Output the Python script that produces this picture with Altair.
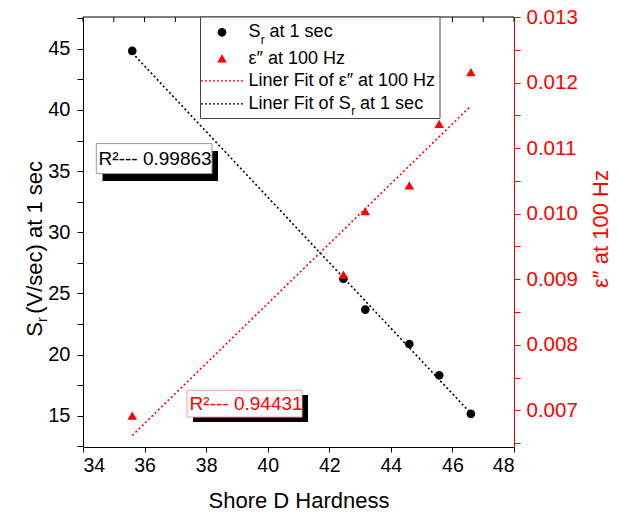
import altair as alt
import pandas as pd

# ---- data ----
hardness = [35.6, 42.46, 43.17, 44.6, 45.57, 46.6]
sr_values = [44.83, 26.2, 23.68, 20.87, 18.31, 15.16]
eps_values = [0.00692, 0.00907, 0.01004, 0.01043, 0.01137, 0.01216]

x_ticks = list(range(34, 49))
y_left_ticks = [12.5, 15, 17.5, 20, 22.5, 25, 27.5, 30, 32.5, 35, 37.5, 40, 42.5, 45, 47.5]
y_right_ticks = [0.0065, 0.007, 0.0075, 0.008, 0.0085, 0.009, 0.0095, 0.010,
                 0.0105, 0.011, 0.0115, 0.012, 0.0125, 0.013]

r2_sr = "R\u00b2--- 0.99863"
r2_eps = "R\u00b2--- 0.94431"

df = pd.DataFrame({"hardness": hardness, "sr": sr_values, "eps": eps_values})

FONT = "Liberation Sans"
W, H = 431, 430
RED = "#ff0000"

xscale = alt.Scale(domain=[34, 48], nice=False, zero=False)
xaxis = alt.Axis(values=x_ticks, format="d",
                 labelExpr="datum.value % 2 == 0 ? datum.label : ''",
                 title="Shore D Hardness", grid=False, tickSize=5,
                 labelFontSize=19.5, titleFontSize=22, labelPadding=4, titlePadding=16,
                 domainColor="black", tickColor="black", labelColor="black",
                 titleColor="black", titleFontWeight="normal", labelFont=FONT, titleFont=FONT)
x_enc = alt.X("hardness:Q", scale=xscale, axis=xaxis)

yl_scale = alt.Scale(domain=[12.45, 47.6], nice=False, zero=False)
yl_axis = alt.Axis(values=y_left_ticks, labelExpr="datum.value % 5 == 0 ? datum.label : ''",
                   title=None, grid=False, tickSize=6, labelFontSize=20, labelPadding=7,
                   domainColor="black", tickColor="black", labelColor="black", labelFont=FONT)

yr_scale = alt.Scale(domain=[0.00644, 0.013], nice=False, zero=False)
yr_axis = alt.Axis(orient="right", values=y_right_ticks, format=".3f",
                   labelExpr="abs(datum.value*1000 - round(datum.value*1000)) < 0.01 ? datum.label : ''",
                   title="\u03b5\u2033 at 100 Hz", titleAngle=270, titleX=86, titleY=211.5,
                   titleAlign="center", titleBaseline="middle", grid=False, tickSize=6,
                   labelFontSize=20.5, titleFontSize=22, labelPadding=6,
                   domainColor=RED, tickColor=RED, labelColor=RED, titleColor=RED,
                   titleFontWeight="normal", labelFont=FONT, titleFont=FONT)

base = alt.Chart(df)

sr_fit = base.transform_regression("hardness", "sr").mark_line(
    color="black", strokeDash=[2, 2.5], strokeWidth=1.6
).encode(x=x_enc, y=alt.Y("sr:Q", scale=yl_scale, axis=yl_axis))
sr_pts = base.mark_point(filled=True, shape="circle", size=75, color="black", opacity=1).encode(
    x=x_enc, y=alt.Y("sr:Q", scale=yl_scale, axis=yl_axis))
left = alt.layer(sr_fit, sr_pts)

eps_fit = base.transform_regression("hardness", "eps").mark_line(
    color=RED, strokeDash=[2, 2.5], strokeWidth=1.6
).encode(x=x_enc, y=alt.Y("eps:Q", scale=yr_scale, axis=yr_axis))
eps_pts = base.mark_point(filled=True, shape="triangle-up", size=90, color=RED, opacity=1).encode(
    x=x_enc, y=alt.Y("eps:Q", scale=yr_scale, axis=yr_axis))
right = alt.layer(eps_fit, eps_pts)

one = alt.Data(values=[{}])


def txt(s, x, y, size, color="black", align="left", baseline="middle", angle=0):
    kw = dict(text=s, align=align, baseline=baseline, fontSize=size, color=color, font=FONT)
    if angle:
        kw["angle"] = angle
    return alt.Chart(one).mark_text(**kw).encode(x=alt.value(x), y=alt.value(y))


def box(x1, x2, y1, y2, fill, stroke=None, sw=1):
    kw = dict(fill=fill, strokeWidth=sw)
    if stroke:
        kw["stroke"] = stroke
    return alt.Chart(one).mark_rect(**kw).encode(
        x=alt.value(x1), x2=alt.value(x2), y=alt.value(y1), y2=alt.value(y2))


def hline(x1, x2, y, color, dash=None, sw=1):
    kw = dict(color=color, strokeWidth=sw)
    if dash:
        kw["strokeDash"] = dash
    return alt.Chart(one).mark_rule(**kw).encode(
        x=alt.value(x1), x2=alt.value(x2), y=alt.value(y))


# top frame line + inward ticks
top_line = hline(0, W, 0, "black", sw=1)
top_ticks = alt.Chart(pd.DataFrame({"t": x_ticks})).mark_rule(color="black", strokeWidth=1).encode(
    x=alt.X("t:Q", scale=xscale), y=alt.value(0), y2=alt.value(5))

# legend
leg = [
    box(117.5, 357, 0, 101.5, "white", "#444", 1),
    alt.Chart(one).mark_point(filled=True, shape="circle", size=75, color="black", opacity=1).encode(
        x=alt.value(139), y=alt.value(15.3)),
    txt("S", 165.6, 15.3, 18),
    txt("r", 177.8, 22.5, 12),
    txt("at 1 sec", 186.6, 15.3, 18),
    alt.Chart(one).mark_point(filled=True, shape="triangle-up", size=90, color=RED, opacity=1).encode(
        x=alt.value(139), y=alt.value(41.3)),
    txt("\u03b5\u2033 at 100 Hz", 165.6, 41.6, 18),
    hline(118, 160.6, 63.8, RED, [2, 2], 1.3),
    txt("Liner Fit of \u03b5\u2033 at 100 Hz", 165.6, 64.3, 18),
    hline(118, 160.6, 86.8, "black", [2, 2], 1.3),
    txt("Liner Fit of S", 165.6, 86.6, 18),
    txt("r", 268.3, 93.8, 12),
    txt("at 1 sec", 277.1, 86.6, 18),
]

# R^2 annotation boxes (with drop shadow)
ann = [
    box(19.5, 135, 134, 164, "black"),
    box(13.3, 129, 126.6, 156.6, "white", "#999", 1),
    txt(r2_sr, 15.6, 141.6, 19),
    box(110, 225, 378, 405, "black"),
    box(104, 219, 373.3, 400, "white", "#f4a0a0", 1),
    txt(r2_eps, 106.6, 386.6, 19, color=RED),
]

# left axis title with subscript (rotated, reads bottom to top)
ltitle = [
    txt("S", -41, 319.7, 22, baseline="alphabetic", angle=270),
    txt("r", -36, 305.0, 14, baseline="alphabetic", angle=270),
    txt("(V/sec) at 1 sec", -41, 296.8, 22, baseline="alphabetic", angle=270),
]

chart = alt.layer(left, right, top_line, top_ticks, *leg, *ann, *ltitle).resolve_scale(
    y="independent"
).properties(
    width=W, height=H,
    autosize=alt.AutoSizeParams(type="none"),
    padding={"left": 83, "top": 17, "right": 104, "bottom": 68},
    background="white",
).configure_view(stroke=None)

chart.save("out.html", embed_options={"renderer": "svg", "actions": False})
